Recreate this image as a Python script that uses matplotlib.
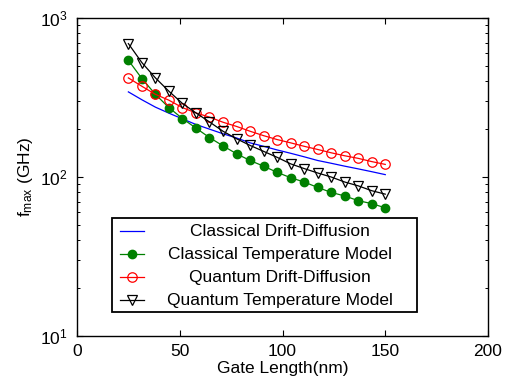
import matplotlib
matplotlib.use("Agg")
import matplotlib.pyplot as plt
from matplotlib.lines import Line2D
from matplotlib.patches import Rectangle
from matplotlib.ticker import LogLocator, FixedLocator, NullFormatter

plt.rcParams['font.family'] = ['Liberation Sans', 'DejaVu Sans']
plt.rcParams['mathtext.fontset'] = 'custom'
plt.rcParams['mathtext.rm'] = 'Liberation Sans'
plt.rcParams['mathtext.it'] = 'Liberation Sans:italic'
plt.rcParams['mathtext.bf'] = 'Liberation Sans:bold'

# ---- data ----
gate_length = [25.00, 31.58, 38.16, 44.74, 51.32, 57.89, 64.47, 71.05, 77.63, 84.21,
               90.79, 97.37, 103.95, 110.53, 117.11, 123.68, 130.26, 136.84, 143.42, 150.00]
classical_dd = [343, 306, 275, 252, 232, 214, 200, 187, 176, 164,
                156, 148, 141, 134, 127, 122, 117, 112.5, 108, 103.5]
classical_tm = [542, 416, 331, 273, 233, 203, 177, 157, 140, 127,
                117, 107, 99, 93, 86, 80, 76, 71, 68, 64]
quantum_dd = [420, 372, 331, 304, 273, 253, 238, 221, 208, 194,
              182, 172, 164, 156, 149, 142, 136, 131, 125, 120]
quantum_tm = [690, 524, 420, 346, 290, 253, 222, 194, 174, 158,
              145, 133, 121, 113, 106, 100, 93, 88, 82, 78]
labels = ["Classical Drift-Diffusion", "Classical Temperature Model",
          "Quantum Drift-Diffusion", "Quantum Temperature Model"]
x_ticks = [0, 50, 100, 150, 200]

fig = plt.figure(figsize=(5.11, 3.83), dpi=100)
ax = fig.add_axes([77/511, 1-336/383, 411/511, 318/383])

styles = [
    dict(color='#0000ff', lw=0.9, ls='-', marker=None),
    dict(color='#008000', lw=0.9, ls='-', marker='o', ms=6, mfc='#008000', mec='#008000'),
    dict(color='#ff0000', lw=0.9, ls='-', marker='o', ms=6.8, mfc='none', mec='#ff0000', mew=0.9),
    dict(color='black', lw=0.9, ls='-', marker='v', ms=7, mfc='none', mec='black', mew=0.9),
]
series = [classical_dd, classical_tm, quantum_dd, quantum_tm]
for ys, st in zip(series, styles):
    ax.plot(gate_length, ys, **st)

ax.set_yscale('log')
ax.set_xlim(0, 200)
ax.set_ylim(10, 1000)
ax.xaxis.set_major_locator(FixedLocator(x_ticks))
ax.yaxis.set_major_locator(LogLocator(base=10, numticks=10))
ax.yaxis.set_minor_locator(LogLocator(base=10, subs=range(2, 10), numticks=20))
ax.yaxis.set_minor_formatter(NullFormatter())
ax.tick_params(which='both', direction='in', top=True, right=True, labelsize=12.5)
ax.tick_params(which='major', length=4, width=0.8)
ax.tick_params(which='minor', length=2.5, width=0.7)
ax.tick_params(axis='y', pad=7)
ax.tick_params(axis='x', pad=6)
for sp in ax.spines.values():
    sp.set_linewidth(1.0)

ax.set_xlabel('Gate Length(nm)', fontsize=12.5, labelpad=1)
ax.set_ylabel(r'f$_{\mathrm{max}}$ (GHz)', fontsize=12.5, labelpad=3)

# ---- legend drawn in axes coordinates ----
lx0, lx1 = 34.7/411, 339.7/411
ly0, ly1 = 0.0745, 0.372
ax.add_patch(Rectangle((lx0, ly0), lx1-lx0, ly1-ly0, transform=ax.transAxes,
                       facecolor='white', edgecolor='black', lw=1.3, zorder=5))
row_y = [0.330, 0.257, 0.184, 0.113]
hx0, hx1 = 0.1046, 0.1630
for lab, st, yy in zip(labels, styles, row_y):
    st2 = dict(st)
    mk = st2.pop('marker')
    ax.add_line(Line2D([hx0, hx1], [yy, yy], transform=ax.transAxes, zorder=6,
                       color=st2['color'], lw=st2['lw']))
    if mk is not None:
        ax.add_line(Line2D([(hx0+hx1)/2], [yy], transform=ax.transAxes, zorder=6,
                           ls='none', marker=mk, ms=st2.get('ms', 6),
                           mfc=st2.get('mfc'), mec=st2.get('mec'), mew=st2.get('mew', 1)))
    ax.text(0.494, yy, lab, transform=ax.transAxes, ha='center', va='center',
            fontsize=12.5, zorder=7)

fig.savefig('out.png', dpi=100)
